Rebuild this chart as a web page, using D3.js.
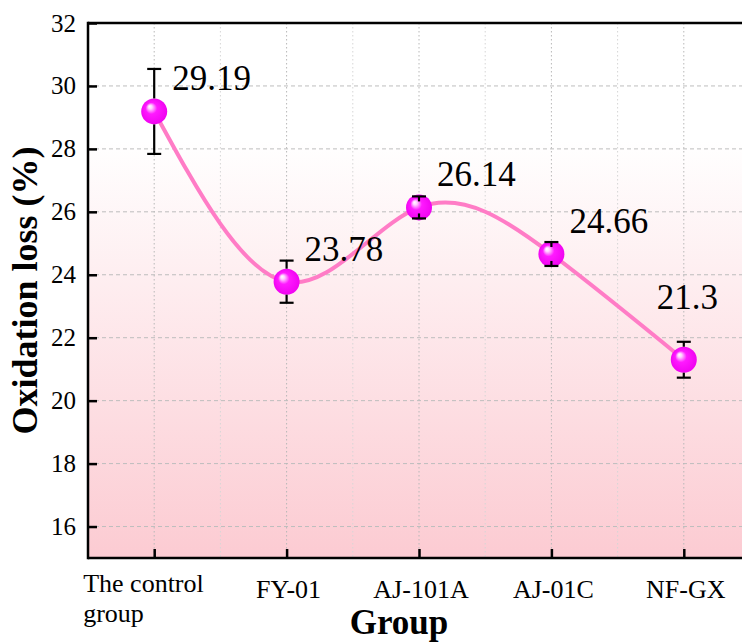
<!DOCTYPE html>
<html>
<head>
<meta charset="utf-8">
<script src="https://cdn.jsdelivr.net/npm/d3@7"></script>
<style>
  body { margin: 0; background: #fff; }
  svg { display: block; }
  svg text { font-family: "Liberation Serif", "Times New Roman", serif; }
</style>
</head>
<body>
<svg id="chart" width="742" height="642"></svg>
<script>
// data
var groups = ["The control group", "FY-01", "AJ-101A", "AJ-01C", "NF-GX"];
var lossValues = [29.19, 23.78, 26.14, 24.66, 21.3];
var lossErrors = [1.35, 0.67, 0.35, 0.38, 0.57];
var yTicks = [16, 18, 20, 22, 24, 26, 28, 30, 32];

// label layout (pixels offset from each point)
var labelOffsets = [[18, -21], [18, -21], [18, -21], [18, -21], [-27, -51]];

var attrs = {
  width: 742,
  height: 642,
  marginLeft: 88,
  marginTop: 23,
  plotRight: 750,
  plotBottom: 558,
  font: "'Liberation Serif', 'Times New Roman', serif",
  lineColor: "#ff7cc6",
  markerRadius: 13,
  gridColor: "#bdbdbd"
};

var svg = d3.select("#chart");
var defs = svg.append("defs");

// background gradient of the plot area
var bg = defs.append("linearGradient").attr("id", "bgGrad")
  .attr("x1", 0).attr("y1", 0).attr("x2", 0).attr("y2", 1);
bg.append("stop").attr("offset", "0%").attr("stop-color", "#ffffff");
bg.append("stop").attr("offset", "22%").attr("stop-color", "#ffffff");
bg.append("stop").attr("offset", "100%").attr("stop-color", "#fccbd2");

// sphere look for markers
var sph = defs.append("radialGradient").attr("id", "sphere")
  .attr("cx", "50%").attr("cy", "50%").attr("r", "55%")
  .attr("fx", "32%").attr("fy", "30%");
sph.append("stop").attr("offset", "0%").attr("stop-color", "#ffffff");
sph.append("stop").attr("offset", "14%").attr("stop-color", "#ffd0ff");
sph.append("stop").attr("offset", "40%").attr("stop-color", "#ff1aff");
sph.append("stop").attr("offset", "100%").attr("stop-color", "#ee00ee");

var x = d3.scalePoint()
  .domain(groups)
  .range([attrs.marginLeft, attrs.plotRight])
  .padding(0.5);

var y = d3.scaleLinear()
  .domain([15, 32])
  .range([attrs.plotBottom, attrs.marginTop]);

var plotW = attrs.plotRight - attrs.marginLeft;
var plotH = attrs.plotBottom - attrs.marginTop;

svg.append("rect")
  .attr("x", attrs.marginLeft).attr("y", attrs.marginTop)
  .attr("width", plotW).attr("height", plotH)
  .attr("fill", "url(#bgGrad)");

// grid lines
var grid = svg.append("g").attr("class", "grid");
grid.selectAll(".hgrid").data(yTicks.filter(function(d) { return d < 32; }))
  .enter().append("line")
  .attr("x1", attrs.marginLeft).attr("x2", attrs.plotRight)
  .attr("y1", d => y(d)).attr("y2", d => y(d))
  .attr("stroke", attrs.gridColor).attr("stroke-width", 1)
  .attr("stroke-dasharray", "4,3");

var step = x.step();
var vPos = [];
groups.forEach(function(g) {
  vPos.push({ x: x(g), major: true });
  vPos.push({ x: x(g) + step / 2, major: false });
});
grid.selectAll(".vgrid").data(vPos).enter().append("line")
  .attr("x1", d => d.x).attr("x2", d => d.x)
  .attr("y1", attrs.marginTop).attr("y2", attrs.plotBottom)
  .attr("stroke", d => d.major ? "#b8b8b8" : "#d6d6d6")
  .attr("stroke-width", 1)
  .attr("stroke-dasharray", "1.5,2.5");

// axes
var yAxis = d3.axisLeft(y).tickValues(yTicks).tickSize(-9).tickPadding(12);
var gy = svg.append("g")
  .attr("transform", "translate(" + attrs.marginLeft + ",0)")
  .call(yAxis)
  .attr("font-family", attrs.font)
  .attr("font-size", 25);
gy.select(".domain").remove();
gy.selectAll(".tick line").attr("stroke", "#000").attr("stroke-width", 2.5);
gy.selectAll(".tick text").attr("fill", "#000");

var xAxis = d3.axisBottom(x).tickSize(-9).tickFormat("");
var gx = svg.append("g")
  .attr("transform", "translate(0," + attrs.plotBottom + ")")
  .call(xAxis);
gx.select(".domain").remove();
gx.selectAll(".tick line").attr("stroke", "#000").attr("stroke-width", 2.5);

// frame lines: left, bottom, top
var frame = svg.append("g").attr("stroke", "#000").attr("stroke-width", 2.5).attr("fill", "none");
frame.append("line").attr("x1", attrs.marginLeft).attr("x2", attrs.marginLeft)
  .attr("y1", attrs.marginTop - 1.25).attr("y2", attrs.plotBottom + 1.25);
frame.append("line").attr("x1", attrs.marginLeft).attr("x2", attrs.plotRight)
  .attr("y1", attrs.plotBottom).attr("y2", attrs.plotBottom);
frame.append("line").attr("x1", attrs.marginLeft).attr("x2", attrs.plotRight)
  .attr("y1", attrs.marginTop).attr("y2", attrs.marginTop);

// x tick labels (first one wraps onto two lines)
var xLab = svg.append("g").attr("font-family", attrs.font).attr("font-size", 26).attr("fill", "#000");
groups.forEach(function(g, i) {
  if (i === 0) {
    var t = xLab.append("text").attr("text-anchor", "start");
    t.append("tspan").attr("x", x(g) - 71).attr("y", 592).text("The control");
    t.append("tspan").attr("x", x(g) - 71).attr("y", 622).text("group");
  } else {
    xLab.append("text")
      .attr("x", x(g) + 2).attr("y", 598)
      .attr("text-anchor", "middle")
      .text(g);
  }
});

// axis titles
svg.append("text")
  .attr("transform", "translate(37," + (attrs.marginTop + plotH / 2) + ") rotate(-90)")
  .attr("text-anchor", "middle")
  .attr("font-family", attrs.font)
  .attr("font-size", 36).attr("font-weight", "bold")
  .text("Oxidation loss (%)");

svg.append("text")
  .attr("x", 399).attr("y", 634)
  .attr("text-anchor", "middle")
  .attr("font-family", attrs.font)
  .attr("font-size", 35).attr("font-weight", "bold")
  .text("Group");

// series
var pts = groups.map(function(g, i) {
  return { g: g, v: lossValues[i], e: lossErrors[i], off: labelOffsets[i] };
});

var line = d3.line()
  .x(d => x(d.g))
  .y(d => y(d.v))
  .curve(d3.curveNatural);

svg.append("path")
  .datum(pts)
  .attr("d", line)
  .attr("fill", "none")
  .attr("stroke", attrs.lineColor)
  .attr("stroke-width", 4);

svg.append("g").selectAll("circle").data(pts).enter().append("circle")
  .attr("cx", d => x(d.g)).attr("cy", d => y(d.v))
  .attr("r", attrs.markerRadius)
  .attr("fill", "url(#sphere)");

// error bars drawn over the markers from their edge outward
var r = attrs.markerRadius;
var eb = svg.append("g").attr("stroke", "#000").attr("stroke-width", 2.2);
pts.forEach(function(d) {
  var cx = x(d.g), cy = y(d.v);
  var yt = y(d.v + d.e), yb = y(d.v - d.e);
  var dist = cy - yt;
  var inner = dist > r ? r : Math.max(dist - 5, 0);
  eb.append("line").attr("x1", cx).attr("x2", cx).attr("y1", yt).attr("y2", cy - inner);
  eb.append("line").attr("x1", cx).attr("x2", cx).attr("y1", yb).attr("y2", cy + inner);
  eb.append("line").attr("x1", cx - 7).attr("x2", cx + 7).attr("y1", yt).attr("y2", yt);
  eb.append("line").attr("x1", cx - 7).attr("x2", cx + 7).attr("y1", yb).attr("y2", yb);
});

// value labels
svg.append("g").selectAll("text").data(pts).enter().append("text")
  .attr("x", d => x(d.g) + d.off[0])
  .attr("y", d => y(d.v) + d.off[1])
  .attr("font-family", attrs.font)
  .attr("font-size", 35).attr("fill", "#000")
  .text(d => d.v);
</script>
</body>
</html>
